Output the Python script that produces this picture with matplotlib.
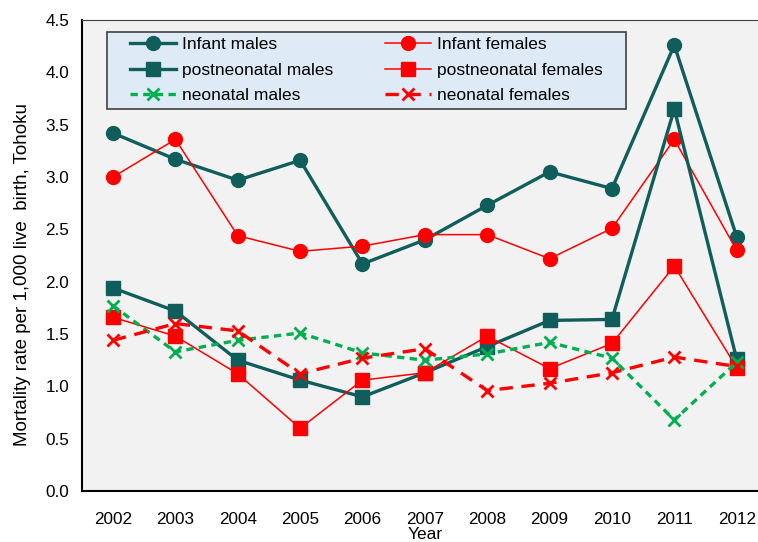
import matplotlib
matplotlib.use('Agg')
import matplotlib.pyplot as plt
from matplotlib.patches import Rectangle

# values (per 1,000 live births, Tohoku)
years = ['2002', '2003', '2004', '2005', '2006', '2007', '2008', '2009', '2010', '2011', '2012']
infant_m = [3.42, 3.17, 2.97, 3.16, 2.17, 2.40, 2.73, 3.05, 2.89, 4.26, 2.43]
infant_f = [3.00, 3.36, 2.44, 2.29, 2.34, 2.45, 2.45, 2.22, 2.51, 3.36, 2.30]
postneo_m = [1.94, 1.72, 1.25, 1.06, 0.90, 1.13, 1.38, 1.63, 1.64, 3.65, 1.26]
postneo_f = [1.66, 1.48, 1.12, 0.60, 1.06, 1.13, 1.48, 1.17, 1.41, 2.15, 1.18]
neo_m = [1.77, 1.33, 1.44, 1.51, 1.32, 1.25, 1.31, 1.42, 1.27, 0.68, 1.23]
neo_f = [1.44, 1.60, 1.53, 1.12, 1.27, 1.36, 0.96, 1.03, 1.13, 1.28, 1.19]

plt.rcParams['font.family'] = ['Liberation Sans', 'DejaVu Sans']

teal = '#0F5E5B'
red = '#FF0000'
green = '#00B050'

fig = plt.figure(figsize=(7.58, 5.42), dpi=100)
ax = fig.add_axes([0.108, 0.094, 0.905, 0.869])
ax.set_facecolor('#F2F2F2')

x = range(len(years))
l1, = ax.plot(x, infant_m, color=teal, lw=2.4, marker='o', ms=10, label='Infant males')
l2, = ax.plot(x, infant_f, color=red, lw=1.1, marker='o', ms=10, label='Infant females')
l3, = ax.plot(x, postneo_m, color=teal, lw=2.4, marker='s', ms=9.5, label='postneonatal males')
l4, = ax.plot(x, postneo_f, color=red, lw=1.1, marker='s', ms=9.5, label='postneonatal females')
l5, = ax.plot(x, neo_m, color=green, lw=2.4, ls=(0, (2.2, 1.6)), marker='x', ms=9, mew=2,
              label='neonatal males')
l6, = ax.plot(x, neo_f, color=red, lw=2.4, ls=(0, (4, 2.6)), marker='x', ms=9, mew=2,
              label='neonatal females')

ax.set_xlim(-0.5, 10.5)
ax.set_ylim(0, 4.5)
ax.set_xticks(list(x))
ax.set_xticklabels(years)
ax.set_yticks([0, 0.5, 1.0, 1.5, 2.0, 2.5, 3.0, 3.5, 4.0, 4.5])
ax.yaxis.set_major_formatter(matplotlib.ticker.FormatStrFormatter('%.1f'))
ax.tick_params(axis='x', length=0, pad=15, labelsize=12.3)
ax.tick_params(axis='y', length=0, pad=9, labelsize=12.3)

for s in ['left', 'bottom']:
    ax.spines[s].set_linewidth(1.5)
    ax.spines[s].set_color('black')
ax.spines['top'].set_linewidth(0.8)
ax.spines['top'].set_color('#404040')
ax.spines['right'].set_visible(False)

ax.set_xlabel('Year', fontsize=12.5, labelpad=0)
ax.set_ylabel('Mortality rate per 1,000 live  birth, Tohoku', fontsize=13.5)
ax.yaxis.set_label_coords(-0.074, 0.459)

# legend box
box = Rectangle((0.0364, 0.812), 0.7566, 0.1625, transform=ax.transAxes,
                facecolor='#DEEBF7', edgecolor='#404040', lw=1.2, zorder=4)
ax.add_patch(box)
leg = ax.legend([l1, l3, l5, l2, l4, l6],
                [h.get_label() for h in [l1, l3, l5, l2, l4, l6]],
                ncol=2, loc='center', bbox_to_anchor=(0.4147, 0.8933), fontsize=12.5,
                frameon=False, handlelength=2.65, handletextpad=0.35,
                columnspacing=3.0, labelspacing=0.6, borderpad=0, borderaxespad=0)
leg.set_zorder(5)

fig.savefig('out.png', dpi=100)
